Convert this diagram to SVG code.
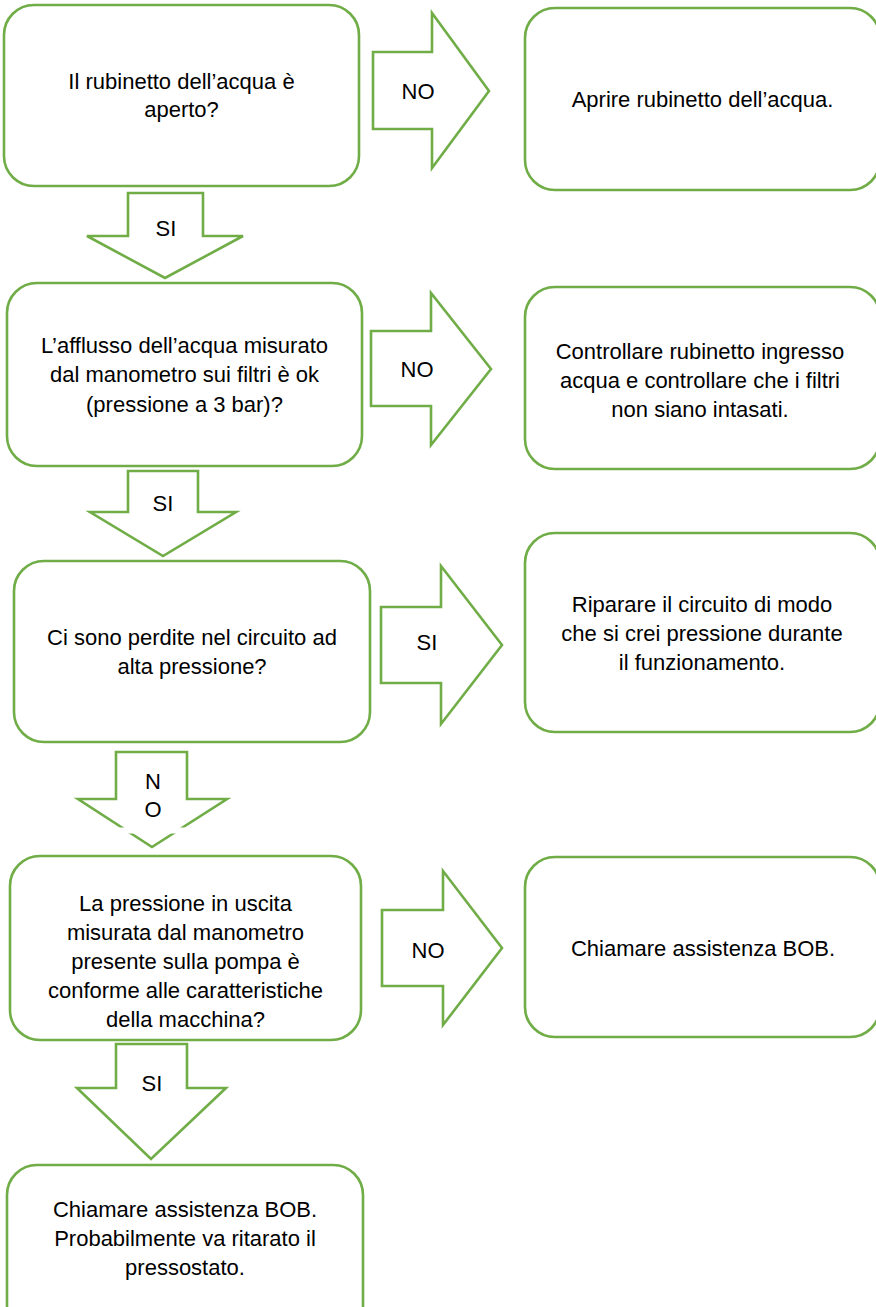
<svg xmlns="http://www.w3.org/2000/svg" width="876" height="1307" viewBox="0 0 876 1307">
<style>
.box{fill:#fff;stroke:#70AD47;stroke-width:2.6}
.arr{fill:#fff;stroke:#70AD47;stroke-width:2.6;stroke-linejoin:miter}
text{font-family:"Liberation Sans",Arial,sans-serif;font-size:22px;fill:#000;text-anchor:middle}
</style>
<rect width="876" height="1307" fill="#fff"/>
<g id="connectors">
  <g id="a1"><polygon class="arr" points="373,52 432,52 432,13 489,91 432,168 432,129 373,129"/><text x="418" y="99">NO</text></g>
  <g id="a2"><polygon class="arr" points="128,193 203,193 203,236 243,236 165,278 87,236 128,236"/><text x="166" y="236">SI</text></g>
  <g id="a3"><polygon class="arr" points="371,331 431,331 431,293 491,369 431,445 431,406 371,406"/><text x="417" y="377">NO</text></g>
  <g id="a4"><polygon class="arr" points="128,471 198,471 198,512 236,512 163,556 90,512 128,512"/><text x="163" y="511">SI</text></g>
  <g id="a5"><polygon class="arr" points="381,607 441,607 441,566 502,645 441,724 441,683 381,683"/><text x="427" y="650">SI</text></g>
  <g id="a6"><polygon class="arr" points="116,752 187,752 187,799 227,799 152,847 78,799 116,799"/><rect x="112" y="827.5" width="86" height="6" fill="#fff"/><text x="153" y="789">N</text><text x="153" y="817">O</text></g>
  <g id="a7"><polygon class="arr" points="382,910 443,910 443,871 502,948 443,1025 443,986 382,986"/><text x="428" y="958">NO</text></g>
  <g id="a8"><polygon class="arr" points="116,1044 187,1044 187,1088 226,1088 151,1159 77,1088 116,1088"/><text x="152" y="1091">SI</text></g>
</g>
<g id="n1"><rect class="box" x="4" y="5" width="355" height="181" rx="30"/><text x="181.5" y="89">Il rubinetto dell’acqua è</text><text x="181.5" y="117">aperto?</text></g>
<g id="r1"><rect class="box" x="525" y="8" width="355" height="182" rx="30"/><text x="702.5" y="107">Aprire rubinetto dell’acqua.</text></g>
<g id="n2"><rect class="box" x="7" y="283" width="355" height="183" rx="30"/><text x="184.5" y="353">L’afflusso dell’acqua misurato</text><text x="184.5" y="382">dal manometro sui filtri è ok</text><text x="184.5" y="412">(pressione a 3 bar)?</text></g>
<g id="r2"><rect class="box" x="525" y="287" width="355" height="182" rx="30"/><text x="700" y="359">Controllare rubinetto ingresso</text><text x="700" y="388">acqua e controllare che i filtri</text><text x="700" y="417">non siano intasati.</text></g>
<g id="n3"><rect class="box" x="14" y="561" width="356" height="181" rx="30"/><text x="192" y="645">Ci sono perdite nel circuito ad</text><text x="192" y="674">alta pressione?</text></g>
<g id="r3"><rect class="box" x="525" y="533" width="355" height="199" rx="30"/><text x="702" y="612">Riparare il circuito di modo</text><text x="702" y="641">che si crei pressione durante</text><text x="702" y="670">il funzionamento.</text></g>
<g id="n4"><rect class="box" x="10" y="856" width="351" height="184" rx="30"/><text x="185.5" y="911">La pressione in uscita</text><text x="185.5" y="940">misurata dal manometro</text><text x="185.5" y="969">presente sulla pompa è</text><text x="185.5" y="998">conforme alle caratteristiche</text><text x="185.5" y="1027">della macchina?</text></g>
<g id="r4"><rect class="box" x="525" y="857" width="355" height="180" rx="30"/><text x="703" y="956">Chiamare assistenza BOB.</text></g>
<g id="n5"><rect class="box" x="7" y="1165" width="356" height="180" rx="30"/><text x="185" y="1217">Chiamare assistenza BOB.</text><text x="185" y="1246">Probabilmente va ritarato il</text><text x="185" y="1275">pressostato.</text></g>
</svg>
